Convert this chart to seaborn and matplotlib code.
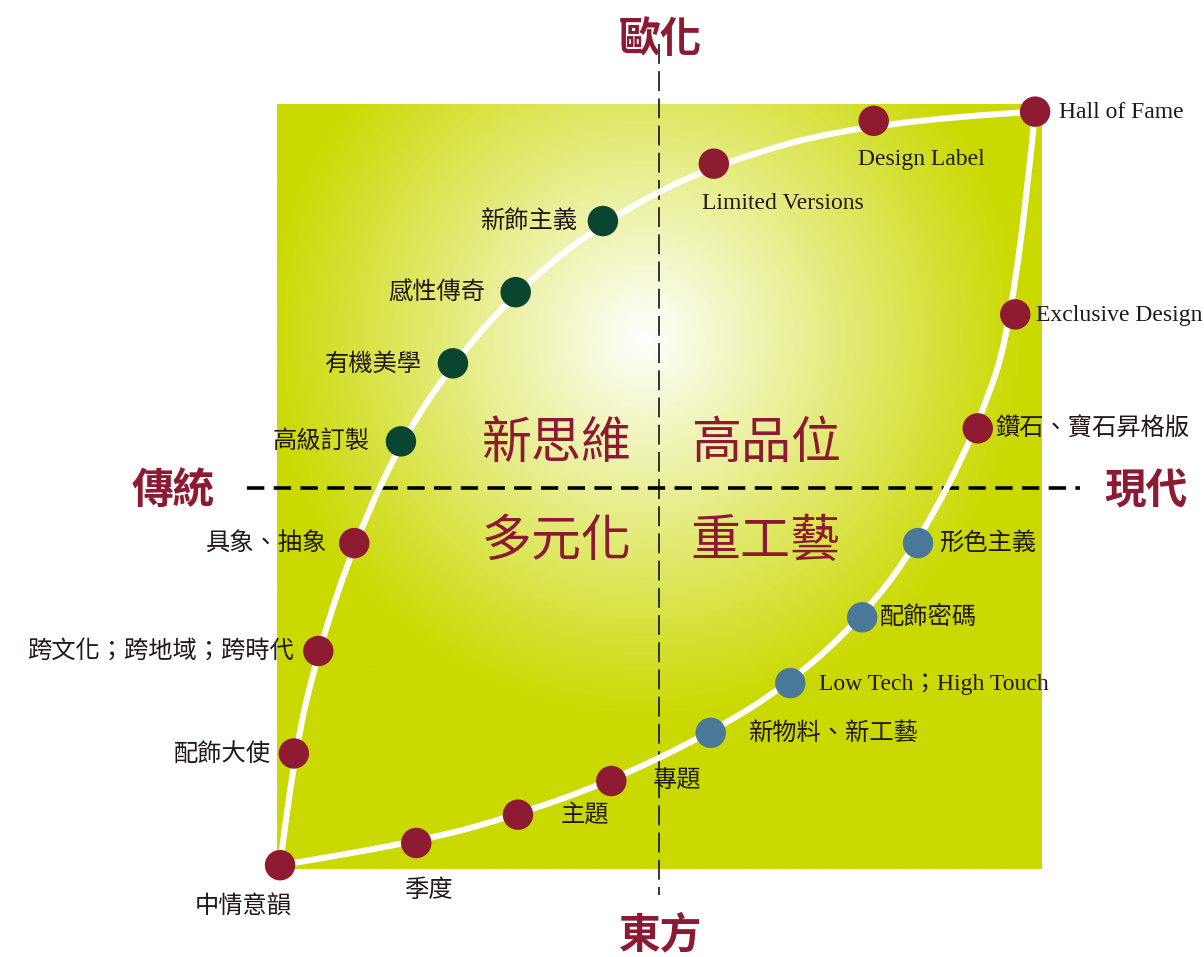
import numpy as np
import matplotlib
matplotlib.use('Agg')
import matplotlib.pyplot as plt
from matplotlib.path import Path
from matplotlib.patches import PathPatch
import seaborn as sb
import pandas as pd

# upper curve: 傳統 -> 歐化 (x: 傳統 0 .. 現代 100, y: 東方 0 .. 歐化 100)
upper_names = ['中情意韻', '配飾大使', '跨文化；跨地域；跨時代', '具象、抽象', '高級訂製', '有機美學',
               '感性傳奇', '新飾主義', 'Limited Versions', 'Design Label', 'Hall of Fame']
upper_x = [0.4, 2.2, 5.4, 10.1, 16.2, 23.0, 31.2, 42.6, 57.1, 78.0, 99.1]
upper_y = [0.5, 15.1, 28.5, 42.6, 55.9, 66.1, 75.4, 84.7, 92.2, 97.8, 99.0]
upper_group = ['red', 'red', 'red', 'red', 'green', 'green', 'green', 'green', 'red', 'red', 'red']

# lower curve: 東方 -> 現代
lower_names = ['季度', '主題', '專題', '新物料、新工藝', 'Low Tech；High Touch', '配飾密碼',
               '形色主義', '鑽石、寶石昇格版', 'Exclusive Design']
lower_x = [18.2, 31.5, 43.7, 56.7, 67.1, 76.5, 83.8, 91.6, 96.5]
lower_y = [3.4, 7.1, 11.5, 17.8, 24.3, 32.9, 42.6, 57.6, 72.5]
lower_group = ['red', 'red', 'red', 'blue', 'blue', 'blue', 'blue', 'red', 'red']

quadrants = ['新思維', '高品位', '多元化', '重工藝']
axis_titles = ['歐化', '東方', '傳統', '現代']

RED = '#8c1a32'
palette = {'red': '#8e1b31', 'green': '#0a4530', 'blue': '#4a7899'}

# label placement: (dx px, dy px, ha, va)
label_pos = {
    '中情意韻': (-37, -40, 'center', 'center'),
    '配飾大使': (-23, 0, 'right', 'center'),
    '跨文化；跨地域；跨時代': (-24, 0, 'right', 'center'),
    '具象、抽象': (-28, 0, 'right', 'center'),
    '高級訂製': (-31, 0, 'right', 'center'),
    '有機美學': (-31, 0, 'right', 'center'),
    '感性傳奇': (-30, 0, 'right', 'center'),
    '新飾主義': (-25, 0, 'right', 'center'),
    'Limited Versions': (69, -40, 'center', 'center'),
    'Design Label': (48, -39, 'center', 'center'),
    'Hall of Fame': (24, -1, 'left', 'center'),
    '季度': (12, -47, 'center', 'center'),
    '主題': (67, 0, 'center', 'center'),
    '專題': (66, 0, 'center', 'center'),
    '新物料、新工藝': (38, 0, 'left', 'center'),
    'Low Tech；High Touch': (29, -1, 'left', 'center'),
    '配飾密碼': (18, 0, 'left', 'center'),
    '形色主義': (21, 0, 'left', 'center'),
    '鑽石、寶石昇格版': (17, 0, 'left', 'center'),
    'Exclusive Design': (21, -1, 'left', 'center'),
}

sb.set_style('white')
plt.rcParams['font.family'] = ['Noto Sans CJK TC', 'DejaVu Sans']

W, H = 1204, 957
fig = plt.figure(figsize=(W / 100, H / 100), dpi=100)
fig.patch.set_facecolor('white')
x0, y0, side = 277, 88, 765
ax = fig.add_axes([x0 / W, y0 / H, side / W, side / H])
ax.set_xlim(0, 100)
ax.set_ylim(0, 100)
ax.axis('off')

# radial gradient background
gx, gy = np.meshgrid(np.linspace(0, 100, 600), np.linspace(0, 100, 600))
d = np.sqrt((gx - 48.0) ** 2 + (gy - 69.5) ** 2) / 50.0
t = np.clip(d, 0, 1)
edge = np.array([202, 217, 0]) / 255.0
img = (1 - t[..., None]) * np.array([1.0, 1.0, 1.0]) + t[..., None] * edge
ax.imshow(img, extent=[0, 100, 0, 100], origin='lower', aspect='auto', zorder=0)


def smooth_path(xs, ys):
    pts = list(zip(xs, ys))
    verts = [pts[0]]
    codes = [Path.MOVETO]
    for i in range(1, len(pts) - 1):
        nxt = pts[i + 1]
        if i < len(pts) - 2:
            end = ((pts[i][0] + nxt[0]) / 2, (pts[i][1] + nxt[1]) / 2)
        else:
            end = nxt
        verts += [pts[i], end]
        codes += [Path.CURVE3, Path.CURVE3]
    return Path(verts, codes)


up_path = smooth_path(upper_x, upper_y)
lo_path = smooth_path([upper_x[0]] + lower_x + [upper_x[-1]], [upper_y[0]] + lower_y + [upper_y[-1]])
for p in (up_path, lo_path):
    ax.add_patch(PathPatch(p, facecolor='none', edgecolor='white', lw=4.4, zorder=2,
                           clip_on=False, capstyle='round'))

# dashed axes
ax.plot([-3.9, 105.0], [49.8, 49.8], color='black', lw=2.6, ls=(0, (4.8, 2.6)),
        clip_on=False, zorder=1)
ax.plot([49.9, 49.9], [107.8, -3.4], color='black', lw=1.1, ls=(0, (13, 4.8)),
        clip_on=False, zorder=1)

df = pd.DataFrame({
    'name': upper_names + lower_names,
    'x': upper_x + lower_x,
    'y': upper_y + lower_y,
    'group': upper_group + lower_group,
})
sb.scatterplot(data=df, x='x', y='y', hue='group', palette=palette, s=480,
               linewidth=0, legend=False, ax=ax, zorder=3, clip_on=False)
ax.set_xlim(0, 100)
ax.set_ylim(0, 100)
ax.axis('off')

latin = ['Liberation Serif', 'Noto Sans CJK TC']
cjk = ['Noto Sans CJK TC', 'DejaVu Sans']
for _, r in df.iterrows():
    dx, dy, ha, va = label_pos[r['name']]
    fam = latin if r['name'][0].isascii() else cjk
    size = 17 if fam is latin else 17.5
    ax.annotate(r['name'], (r['x'], r['y']), xytext=(dx * 0.72, dy * 0.72),
                textcoords='offset points', ha=ha, va=va, fontsize=size,
                family=fam, color='#231815', zorder=4, annotation_clip=False)

# quadrant words
qx = [36.6, 63.9, 36.6, 63.9]
qy = [55.6, 55.6, 42.8, 42.8]
for q, a, b in zip(quadrants, qx, qy):
    ax.text(a, b, q, ha='center', va='center', fontsize=36, color=RED, zorder=4)

# axis titles
tx = [50.1, 50.1, -13.6, 113.6]
ty = [108.4, -8.7, 49.4, 49.4]
for s, a, b in zip(axis_titles, tx, ty):
    ax.text(a, b, s, ha='center', va='center', fontsize=30, color=RED,
            fontweight='bold', zorder=4)

fig.savefig('out.png', dpi=100, facecolor='white')
